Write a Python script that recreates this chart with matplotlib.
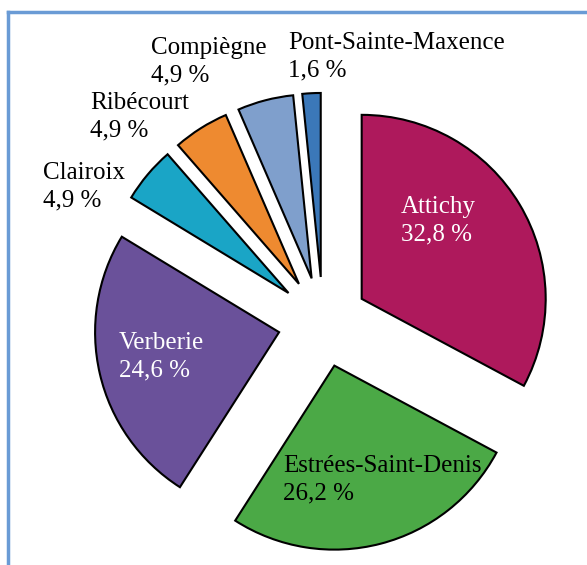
import matplotlib.pyplot as plt
from matplotlib.lines import Line2D

# share of pupils per commune (%)
communes = ['Attichy', 'Estrées-Saint-Denis', 'Verberie', 'Clairoix',
            'Ribécourt', 'Compiègne', 'Pont-Sainte-Maxence']
parts = [32.8, 26.2, 24.6, 4.9, 4.9, 4.9, 1.6]
colors = ['#ae195c', '#4ba946', '#6a519a', '#1aa5c6',
          '#ee8a30', '#7f9fcc', '#3b78b9']
text_colors = ['white', 'black', 'white', 'black', 'black', 'black', 'black']

# label anchors (top-left, in pixels from the top-left corner)
label_pos = [(401, 196), (283, 455), (119, 332), (43, 162),
             (90, 92), (151, 37), (288, 32)]

W, H = 587, 565
cx, cy, R = 323, 322, 184

fig = plt.figure(figsize=(W / 100, H / 100), dpi=100)
ax = fig.add_axes([0, 0, 1, 1])

ax.pie(parts, colors=colors, startangle=90, counterclock=False,
       explode=[0.245] * len(parts), radius=1,
       wedgeprops=dict(edgecolor='black', linewidth=1.5))
# pie() resets the limits, so set them afterwards
ax.set_aspect('auto')
ax.set_xlim(-cx / R, (W - cx) / R)
ax.set_ylim(-(H - cy) / R, cy / R)
ax.axis('off')

for name, val, (px, py), tc in zip(communes, parts, label_pos, text_colors):
    txt = '{}\n{} %'.format(name, str(val).replace('.', ','))
    fig.text(px / W, 1 - py / H, txt, ha='left', va='top', color=tc,
             fontsize=18, family='Liberation Serif', linespacing=1.35)

# blue frame on the top and left side
frame = '#6a9bd5'
fig.add_artist(Line2D([8 / W, 8 / W], [0, 1 - 12 / H], color=frame,
                      lw=2.5, transform=fig.transFigure))
fig.add_artist(Line2D([8 / W, 1], [1 - 12 / H, 1 - 12 / H], color=frame,
                      lw=2.5, transform=fig.transFigure))

fig.savefig('out.png', dpi=100)
